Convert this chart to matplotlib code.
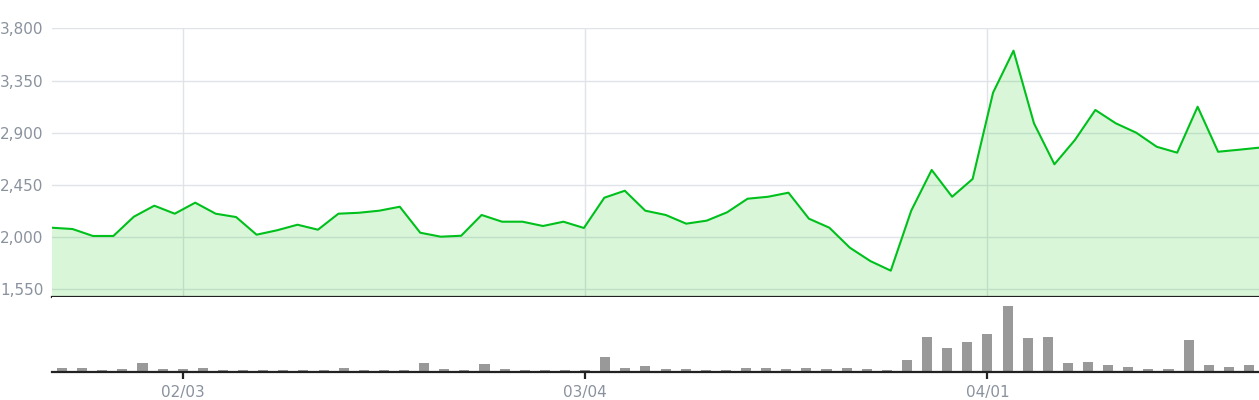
import matplotlib
matplotlib.use('Agg')

import matplotlib.pyplot as plt
import numpy as np


# closing price per trading day (60 days)
price = [2081, 2070, 2010, 2010, 2176, 2271, 2202, 2297, 2202, 2173,
         2021, 2059, 2107, 2064, 2202, 2210, 2228, 2262, 2038, 2004,
         2012, 2191, 2133, 2133, 2096, 2133, 2079, 2340, 2400, 2228,
         2191, 2116, 2142, 2214, 2331, 2348, 2383, 2159, 2081, 1909,
         1794, 1711, 2228, 2579, 2348, 2501, 3245, 3607, 2981, 2628,
         2837, 3096, 2981, 2900, 2779, 2728, 3124, 2736, 2753, 2771]

# trading volume (relative units)
volume = [4.5, 4.5, 2.5, 3.5, 9.5, 3.5, 3.5, 4.5, 2.5, 2.5,
          2.5, 2.5, 2.5, 2.5, 4.5, 2.5, 2.5, 2.5, 9.5, 3.5,
          2.5, 8.5, 3.5, 2.5, 2.2, 2.2, 2.2, 15.2, 4.2, 6.3,
          3.3, 3.3, 2.3, 2.3, 4.3, 4.3, 3.3, 4.3, 3.3, 4.3,
          3.3, 2.3, 12.5, 35.5, 24.5, 30.5, 38.5, 66.5, 34.5, 35.5,
          9.5, 10.5, 7.5, 5.5, 3.5, 3.5, 32.5, 7.5, 5.5, 7.5]

tick_idx = [6, 26, 46]
tick_labels = ["02/03", "03/04", "04/01"]
price_ticks = [1550, 2000, 2450, 2900, 3350, 3800]

LINE = '#00c01c'
FILL = (0.0, 0.78, 0.0, 0.15)
GRID = '#e0e3e8'
LABEL = '#8a929e'
DARK = '#222222'

plt.rcParams['font.family'] = ['DejaVu Sans']

W, H = 1259, 400
fig = plt.figure(figsize=(W / 100, H / 100), dpi=100)

n = len(price)
ax1 = fig.add_axes([52 / W, 1 - 297 / H, 1 - 52 / W, (297 - 28.3) / H])
ax2 = fig.add_axes([52 / W, 1 - 372 / H, 1 - 52 / W, (372 - 297) / H])

# price line spans the full width, bars sit in the middle of each band
x_line = np.linspace(-0.5, n - 0.5, n)
x_bar = np.arange(n)

ax1.set_xlim(-0.5, n - 0.5)
ax1.set_ylim(1484, 3800)
for t in price_ticks:
    ax1.axhline(t, color=GRID, lw=1, zorder=0)
for i in tick_idx:
    ax1.axvline(i, color=GRID, lw=1, zorder=0)

ax1.fill_between(x_line, price, 0, color=FILL, lw=0, zorder=1)
ax1.plot(x_line, price, color=LINE, lw=1.5, zorder=3)

ax1.set_yticks(price_ticks)
ax1.set_yticklabels(["{:,}".format(t) for t in price_ticks])
ax1.tick_params(axis='y', length=0, pad=6, labelsize=11, labelcolor=LABEL)
ax1.set_xticks([])
for s in ['top', 'right', 'left']:
    ax1.spines[s].set_visible(False)
ax1.spines['bottom'].set_color(DARK)
ax1.spines['bottom'].set_linewidth(1.6)
ax1.spines['bottom'].set_zorder(4)

ax2.bar(x_bar, volume, width=0.5, color='#999999', zorder=2)
ax2.set_xlim(-0.5, n - 0.5)
ax2.set_ylim(0, 75)
ax2.set_yticks([])
ax2.set_xticks(tick_idx)
ax2.set_xticklabels(tick_labels)
ax2.tick_params(axis='x', length=5, width=1.6, color=DARK, pad=4,
                labelsize=11, labelcolor=LABEL)
for s in ['top', 'right', 'left']:
    ax2.spines[s].set_visible(False)
ax2.spines['bottom'].set_color(DARK)
ax2.spines['bottom'].set_linewidth(1.6)

fig.savefig("out.png", dpi=100)
plt.close(fig)
